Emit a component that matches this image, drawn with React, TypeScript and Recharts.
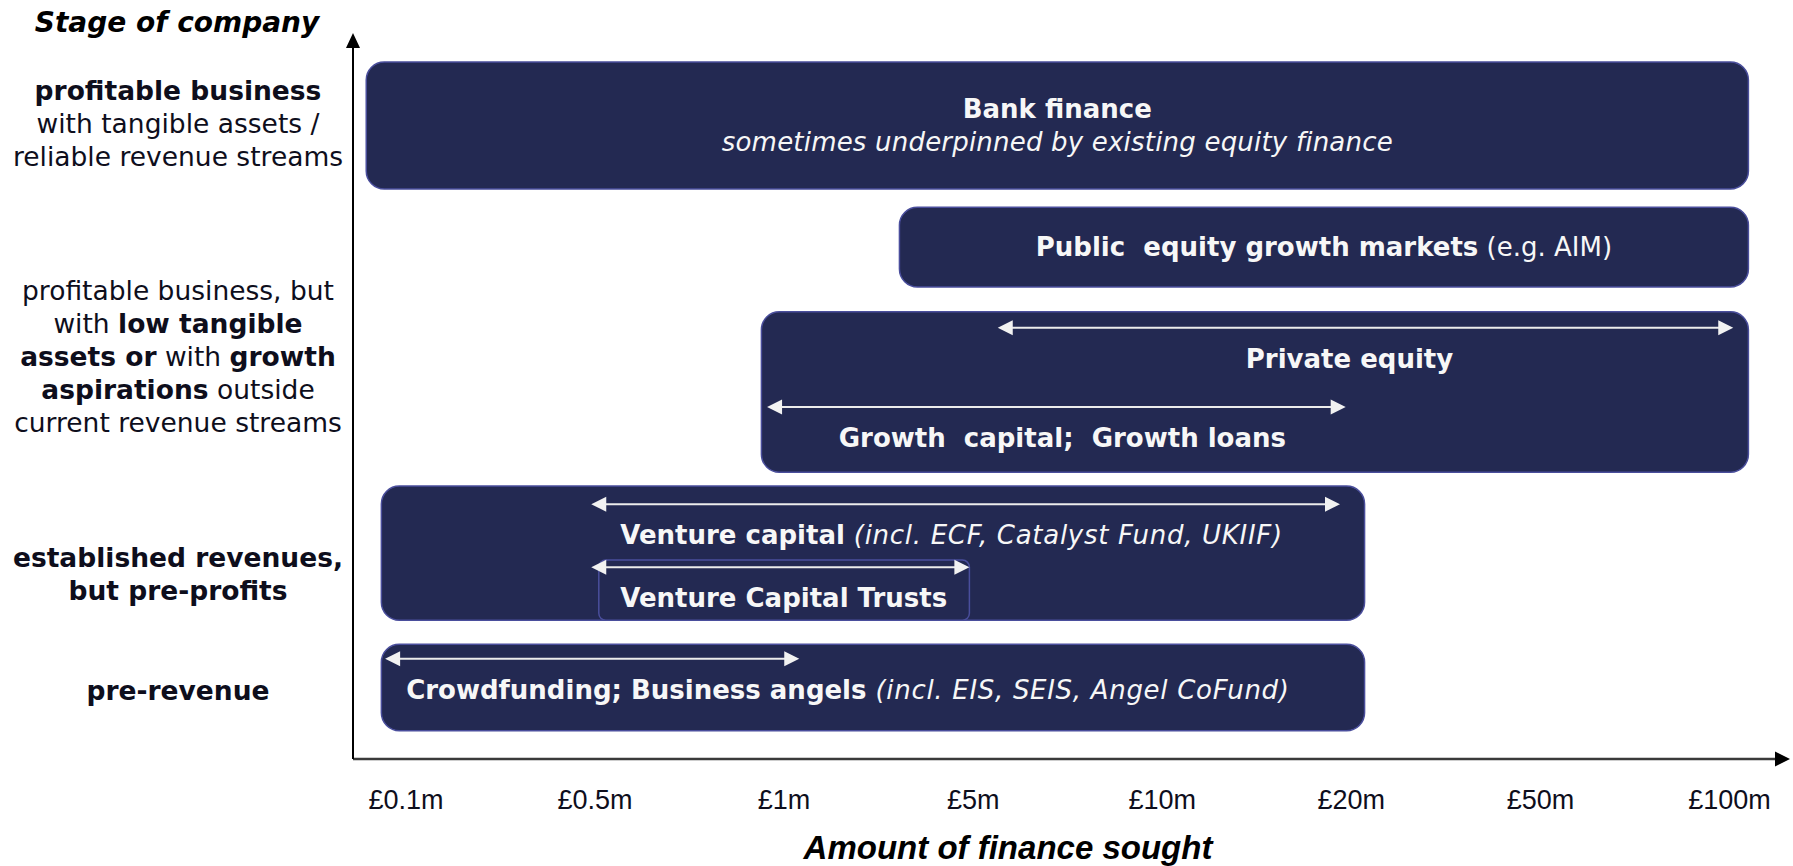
import React from 'react';
import { ComposedChart, XAxis, YAxis, ReferenceArea, ReferenceLine } from 'recharts';

type Seg = [string, 'b' | 'i' | 'r'];

// x axis: amounts, equally spaced (index on the axis)
const tickLabels = ['£0.1m', '£0.5m', '£1m', '£5m', '£10m', '£20m', '£50m', '£100m'];
const tickValues = tickLabels.map((_, i) => i);

// y axis: stage of company (0 = bottom, 100 = top)
const stageLevels = [87.6, 55.5, 25.6, 9.5];
const stageLabels: Seg[][][] = [
  [[['profitable business', 'b']], [['with tangible assets /', 'r']], [['reliable revenue streams', 'r']]],
  [
    [['profitable business, but', 'r']],
    [['with ', 'r'], ['low tangible', 'b']],
    [['assets or', 'b'], [' with ', 'r'], ['growth', 'b']],
    [['aspirations', 'b'], [' outside', 'r']],
    [['current revenue streams', 'r']],
  ],
  [[['established revenues,', 'b']], [['but pre-profits', 'b']]],
  [[['pre-revenue', 'b']]],
];

// finance boxes
const boxFrom = [-0.21, 2.61, 1.88, -0.13, 1.02, -0.13];
const boxTo = [7.1, 7.1, 7.1, 5.07, 2.98, 5.07];
const boxLow = [78.5, 65.0, 39.5, 19.1, 19.1, 3.9];
const boxHigh = [96.0, 76.0, 61.6, 37.6, 27.4, 15.8];
const boxText: Seg[][][] = [
  [[['Bank finance', 'b']], [['sometimes underpinned by existing equity finance', 'i']]],
  [[['Public  equity growth markets', 'b'], [' (e.g. AIM)', 'r']]],
  [],
  [],
  [],
  [],
];

// range arrows inside the boxes
const arrowFrom = [3.13, 1.91, 0.98, 0.98, -0.11];
const arrowTo = [7.02, 4.97, 4.94, 2.98, 2.08];
const arrowLevel = [59.4, 48.5, 35.1, 26.4, 13.8];
const arrowText: Seg[][] = [
  [['Private equity', 'b']],
  [['Growth  capital;  Growth loans', 'b']],
  [['Venture capital', 'b'], [' (incl. ECF, Catalyst Fund, UKIIF)', 'i']],
  [['Venture Capital Trusts', 'b']],
  [['Crowdfunding; Business angels', 'b'], [' (incl. EIS, SEIS, Angel CoFund)', 'i']],
];
// label placement relative to its arrow (pixels)
const arrowAlign = ['middle', 'middle', 'start', 'start', 'start'];
const arrowShift = [-16, 6, 29, 29, 21];

const NAVY = '#232952';
const EDGE = '#4a4e9c';
const SANS = '"DejaVu Sans", Verdana, sans-serif';
const ARIAL = '"Liberation Sans", Arial, sans-serif';
const INK = '#0e0e1c';

function Runs({ segs, italicSpacing = 0.7 }: { segs: Seg[]; italicSpacing?: number }) {
  return (
    <>
      {segs.map(([t, s], i) => (
        <tspan
          key={i}
          fontWeight={s === 'b' ? 700 : 400}
          fontStyle={s === 'i' ? 'italic' : 'normal'}
          letterSpacing={s === 'i' ? italicSpacing : 0}
        >
          {t}
        </tspan>
      ))}
    </>
  );
}

function arrowHead(tx: number, ty: number, dx: number, dy: number, len: number, half: number) {
  // dx,dy: unit direction the head points to
  const bx = tx - dx * len;
  const by = ty - dy * len;
  return `${tx},${ty} ${bx - dy * half},${by + dx * half} ${bx + dy * half},${by - dx * half}`;
}

const renderBox = (p: any, i: number) => {
  const lines = boxText[i];
  const cx = p.x + p.width / 2;
  const cy = p.y + p.height / 2;
  const r = i === 4 ? 7 : 18;
  return (
    <g>
      <rect x={p.x} y={p.y} width={p.width} height={p.height} rx={r} ry={r} fill={NAVY} stroke={EDGE} strokeWidth={1.5} />
      {lines.map((segs, k) => (
        <text
          key={k}
          x={cx}
          y={cy + (k - (lines.length - 1) / 2) * 33}
          textAnchor="middle"
          dominantBaseline="central"
          fill="#f7f7f7"
          fontFamily={SANS}
          fontSize={26}
          style={{ whiteSpace: 'pre' }}
        >
          <Runs segs={segs} italicSpacing={0.2} />
        </text>
      ))}
    </g>
  );
};

const renderArrow = (p: any, i: number) => {
  const { x1, y1, x2 } = p;
  const len = 15;
  const half = 7.5;
  const start = arrowAlign[i] === 'start';
  return (
    <g>
      <line x1={x1 + len - 1} y1={y1} x2={x2 - len + 1} y2={y1} stroke="#ececec" strokeWidth={2} />
      <polygon points={arrowHead(x1, y1, -1, 0, len, half)} fill="#f2f2f2" />
      <polygon points={arrowHead(x2, y1, 1, 0, len, half)} fill="#f2f2f2" />
      <text
        x={(start ? x1 : (x1 + x2) / 2) + arrowShift[i]}
        y={y1 + 31}
        textAnchor={start ? 'start' : 'middle'}
        dominantBaseline="central"
        fill="#f7f7f7"
        fontFamily={SANS}
        fontSize={26}
        style={{ whiteSpace: 'pre' }}
      >
        <Runs segs={arrowText[i]} />
      </text>
    </g>
  );
};

const renderXAxisLine = (p: any) => (
  <g>
    <line x1={p.x1} y1={p.y1} x2={p.x2 - 14} y2={p.y2} stroke="#3a3a3a" strokeWidth={2.5} />
    <polygon points={arrowHead(p.x2, p.y2, 1, 0, 15, 7.5)} fill="#000" />
  </g>
);

const renderYAxisLine = (p: any) => (
  <g>
    <line x1={p.x1} y1={p.y1} x2={p.x2} y2={p.y2 + 14} stroke="#000" strokeWidth={2} />
    <polygon points={arrowHead(p.x2, p.y2, 0, -1, 15, 7)} fill="#000" />
  </g>
);

const XTick = (p: any) => {
  const idx = tickValues.indexOf(p.payload.value);
  return (
    <text x={p.x} y={p.y + 41} textAnchor="middle" dominantBaseline="central" fontFamily={ARIAL} fontSize={27} fill={INK}>
      {tickLabels[idx]}
    </text>
  );
};

const YTick = (p: any) => {
  const idx = stageLevels.indexOf(p.payload.value);
  const lines = stageLabels[idx] || [];
  return (
    <g>
      {lines.map((segs, k) => (
        <text
          key={k}
          x={p.x - 175}
          y={p.y + (k - (lines.length - 1) / 2) * 33}
          textAnchor="middle"
          dominantBaseline="central"
          fontFamily={SANS}
          fontSize={26.5}
          fill={INK}
          style={{ whiteSpace: 'pre' }}
        >
          <Runs segs={segs} />
        </text>
      ))}
    </g>
  );
};

const xTitle = (p: any) => (
  <text
    x={p.viewBox.x + 655}
    y={p.viewBox.y + 88}
    textAnchor="middle"
    dominantBaseline="central"
    fontFamily={ARIAL}
    fontWeight={700}
    fontStyle="italic"
    fontSize={33}
    fill="#000"
  >
    Amount of finance sought
  </text>
);

const yTitle = (p: any) => (
  <text
    x={p.viewBox.x + 177}
    y={p.viewBox.y - 11}
    textAnchor="middle"
    dominantBaseline="central"
    fontFamily={SANS}
    fontWeight={700}
    fontStyle="italic"
    fontSize={28}
    fill="#000"
  >
    Stage of company
  </text>
);

export default function App() {
  const xMin = -0.28;
  const xMax = 7.32;
  return (
    <div style={{ position: 'absolute', left: 0, top: 0, width: 1793, height: 866, background: '#fff' }}>
      <ComposedChart width={1793} height={866} data={[]} margin={{ top: 33, right: 3, bottom: 0, left: 0 }}>
        <XAxis
          type="number"
          dataKey="x"
          domain={[xMin, xMax]}
          ticks={tickValues}
          interval={0}
          tick={XTick}
          tickSize={0}
          tickMargin={0}
          axisLine={false}
          tickLine={false}
          height={107}
          allowDataOverflow
          label={xTitle}
        />
        <YAxis
          type="number"
          dataKey="y"
          domain={[0, 100]}
          ticks={stageLevels}
          interval={0}
          tick={YTick}
          tickSize={0}
          tickMargin={0}
          axisLine={false}
          tickLine={false}
          width={353}
          allowDataOverflow
          label={yTitle}
        />
        {boxFrom.map((x1, i) => (
          <ReferenceArea
            key={`box-${i}`}
            x1={x1}
            x2={boxTo[i]}
            y1={boxLow[i]}
            y2={boxHigh[i]}
            ifOverflow="visible"
            shape={(p: any) => renderBox(p, i)}
          />
        ))}
        {arrowFrom.map((x1, i) => (
          <ReferenceLine
            key={`arrow-${i}`}
            segment={[
              { x: x1, y: arrowLevel[i] },
              { x: arrowTo[i], y: arrowLevel[i] },
            ]}
            ifOverflow="visible"
            shape={(p: any) => renderArrow(p, i)}
          />
        ))}
        <ReferenceLine
          segment={[
            { x: xMin, y: 0 },
            { x: xMax, y: 0 },
          ]}
          ifOverflow="visible"
          shape={renderXAxisLine}
        />
        <ReferenceLine
          segment={[
            { x: xMin, y: 0 },
            { x: xMin, y: 100 },
          ]}
          ifOverflow="visible"
          shape={renderYAxisLine}
        />
      </ComposedChart>
    </div>
  );
}
